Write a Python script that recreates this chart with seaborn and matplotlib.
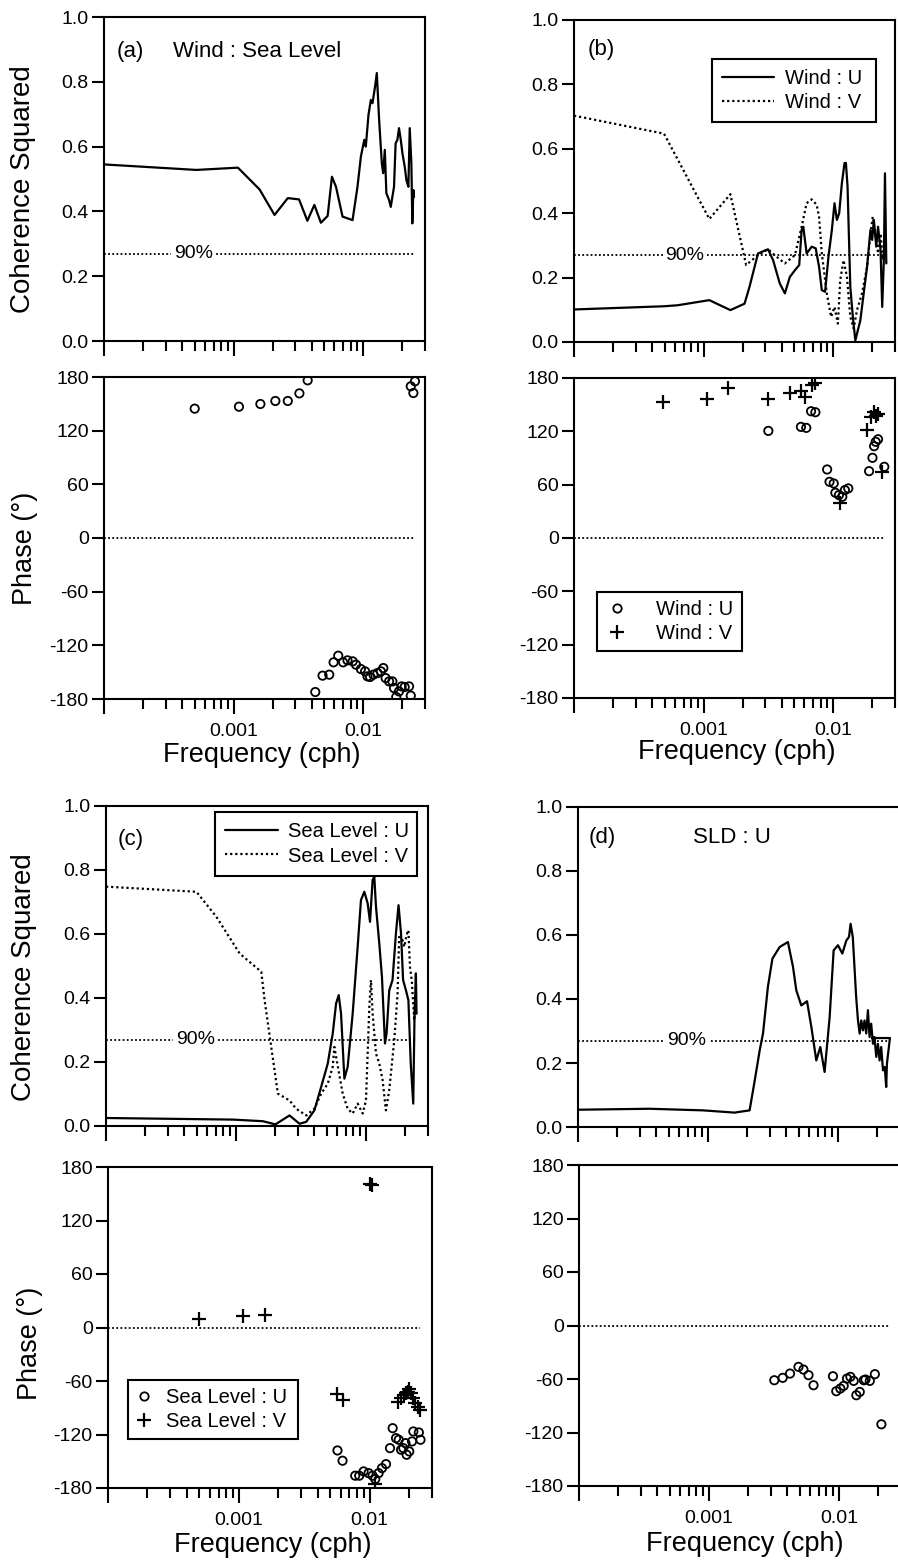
import numpy as np
import pandas as pd
import matplotlib
matplotlib.use("Agg")
import matplotlib.pyplot as plt
from matplotlib.lines import Line2D
from matplotlib.ticker import LogLocator, FuncFormatter, NullFormatter, FixedLocator
import seaborn as sns

# ---------------------------------------------------------------- data (frequency in cph)
# (a) Wind : Sea Level
A_COH_F = [1.0e-4, 5.16e-4, 1.08e-3, 1.585e-3, 2.07e-3, 2.62e-3, 3.20e-3, 3.71e-3, 4.20e-3,
           4.72e-3, 5.32e-3, 5.74e-3, 6.17e-3, 6.93e-3, 8.28e-3, 9.04e-3, 9.6e-3, 1.02e-2,
           1.048e-2, 1.099e-2, 1.146e-2, 1.18e-2, 1.236e-2, 1.274e-2, 1.328e-2, 1.393e-2,
           1.426e-2, 1.469e-2, 1.51e-2, 1.585e-2, 1.633e-2, 1.73e-2, 1.78e-2, 1.837e-2,
           1.89e-2, 1.95e-2, 2.01e-2, 2.093e-2, 2.155e-2, 2.233e-2, 2.287e-2, 2.355e-2,
           2.395e-2, 2.44e-2, 2.466e-2]
A_COH = [0.545, 0.528, 0.535, 0.468, 0.389, 0.441, 0.437, 0.371, 0.42, 0.365, 0.386, 0.507,
         0.476, 0.384, 0.373, 0.476, 0.569, 0.621, 0.6, 0.698, 0.744, 0.734, 0.786, 0.827,
         0.682, 0.548, 0.518, 0.59, 0.456, 0.435, 0.414, 0.476, 0.61, 0.621, 0.657, 0.621,
         0.579, 0.538, 0.497, 0.476, 0.657, 0.548, 0.363, 0.466, 0.445]
A_PH_F = [5.01e-4, 1.1e-3, 1.61e-3, 2.1e-3, 2.62e-3, 3.22e-3, 3.73e-3, 2.33e-2, 2.44e-2, 2.51e-2,
          4.27e-3, 4.86e-3, 5.47e-3, 5.91e-3, 6.42e-3, 7.0e-3, 7.57e-3, 8.3e-3, 8.8e-3, 9.6e-3,
          1.035e-2, 1.08e-2, 1.13e-2, 1.2e-2, 1.29e-2, 1.37e-2, 1.43e-2, 1.49e-2, 1.585e-2,
          1.68e-2, 1.73e-2, 1.8e-2, 1.89e-2, 1.98e-2, 2.09e-2, 2.26e-2, 2.33e-2]
A_PH = [144.6, 146.8, 149.8, 153.2, 153.2, 161.7, 176.3, 169.6, 162.1, 175.2,
        -172.2, -153.9, -152.8, -139.0, -131.6, -139.0, -136.8, -137.9, -141.6, -146.5,
        -149.1, -154.7, -155.4, -152.8, -151.0, -149.1, -145.4, -156.6, -160.3,
        -160.3, -167.8, -177.8, -171.5, -165.9, -166.6, -165.9, -176.3]

# (b) Wind : U and Wind : V
B_U_F = [1.0e-4, 4.95e-4, 6.28e-4, 1.107e-3, 1.61e-3, 2.07e-3, 2.26e-3, 2.63e-3, 3.14e-3,
         3.44e-3, 3.87e-3, 4.24e-3, 4.63e-3, 5.07e-3, 5.47e-3, 5.71e-3, 5.88e-3, 6.24e-3,
         6.83e-3, 7.33e-3, 7.78e-3, 8.17e-3, 8.66e-3, 9.2e-3, 9.77e-3, 1.024e-2, 1.068e-2,
         1.113e-2, 1.167e-2, 1.224e-2, 1.254e-2, 1.291e-2, 1.356e-2, 1.422e-2, 1.483e-2,
         1.527e-2, 1.62e-2, 1.72e-2, 1.827e-2, 1.94e-2, 2.0e-2, 2.06e-2, 2.15e-2, 2.22e-2,
         2.32e-2, 2.39e-2, 2.46e-2, 2.51e-2, 2.57e-2]
B_U = [0.101, 0.111, 0.114, 0.13, 0.099, 0.119, 0.171, 0.275, 0.288, 0.254, 0.182, 0.151,
       0.202, 0.223, 0.239, 0.348, 0.358, 0.275, 0.296, 0.291, 0.234, 0.161, 0.156, 0.265,
       0.348, 0.431, 0.379, 0.4, 0.493, 0.556, 0.556, 0.483, 0.171, 0.073, 0.005, 0.026,
       0.067, 0.151, 0.234, 0.348, 0.317, 0.379, 0.296, 0.358, 0.286, 0.109, 0.254, 0.524,
       0.244]
B_V_F = [1.0e-4, 4.95e-4, 1.107e-3, 1.61e-3, 2.13e-3, 2.63e-3, 3.14e-3, 3.65e-3, 4.24e-3,
         5.07e-3, 5.71e-3, 6.24e-3, 6.83e-3, 7.46e-3, 7.78e-3, 8.17e-3, 8.93e-3, 9.64e-3,
         1.024e-2, 1.087e-2, 1.133e-2, 1.203e-2, 1.277e-2, 1.356e-2, 1.439e-2, 1.527e-2,
         1.67e-2, 1.827e-2, 1.94e-2, 2.02e-2, 2.12e-2, 2.22e-2, 2.32e-2, 2.42e-2, 2.49e-2]
B_V = [0.703, 0.647, 0.382, 0.459, 0.239, 0.27, 0.288, 0.265, 0.244, 0.27, 0.358, 0.431,
       0.443, 0.426, 0.389, 0.275, 0.151, 0.078, 0.109, 0.057, 0.192, 0.254, 0.202, 0.078,
       0.042, 0.099, 0.151, 0.234, 0.337, 0.389, 0.337, 0.275, 0.337, 0.254, 0.275]
B_PU_F = [3.16e-3, 5.64e-3, 6.2e-3, 6.75e-3, 7.29e-3, 8.98e-3, 9.37e-3, 1.01e-2, 1.04e-2,
          1.107e-2, 1.175e-2, 1.232e-2, 1.308e-2, 1.893e-2, 2.01e-2, 2.07e-2, 2.13e-2,
          2.22e-2, 2.48e-2]
B_PU = [120.5, 125.0, 123.9, 142.6, 141.5, 77.1, 63.2, 61.4, 50.9, 48.3, 46.4, 53.9, 55.8,
        75.2, 90.2, 103.3, 108.2, 111.1, 80.1]
B_PV_F = [4.89e-4, 1.068e-3, 1.546e-3, 3.16e-3, 4.66e-3, 5.64e-3, 6.1e-3, 6.87e-3, 7.2e-3,
          1.127e-2, 1.837e-2, 1.974e-2, 2.07e-2, 2.13e-2, 2.2e-2, 2.4e-2]
B_PV = [152.7, 156.8, 168.8, 156.8, 163.2, 165.4, 158.7, 172.5, 174.4, 38.9, 122.0, 136.2,
        141.8, 137.0, 139.2, 74.5]

# (c) Sea Level : U and Sea Level : V
C_U_F = [1.0e-4, 9.48e-4, 1.61e-3, 2.01e-3, 2.58e-3, 3.08e-3, 3.47e-3, 4.01e-3, 4.52e-3,
         5.08e-3, 5.55e-3, 5.89e-3, 6.17e-3, 6.43e-3, 6.82e-3, 7.23e-3, 7.9e-3, 8.63e-3,
         9.15e-3, 9.71e-3, 1.03e-2, 1.074e-2, 1.125e-2, 1.159e-2, 1.194e-2, 1.266e-2,
         1.327e-2, 1.4e-2, 1.44e-2, 1.51e-2, 1.6e-2, 1.70e-2, 1.78e-2, 1.86e-2, 1.93e-2,
         2.03e-2, 2.12e-2, 2.21e-2, 2.31e-2, 2.36e-2, 2.42e-2, 2.45e-2]
C_U = [0.025, 0.02, 0.015, 0.005, 0.033, 0.007, 0.013, 0.049, 0.122, 0.195, 0.289, 0.383,
       0.409, 0.351, 0.148, 0.185, 0.351, 0.56, 0.706, 0.732, 0.696, 0.638, 0.769, 0.779,
       0.685, 0.57, 0.466, 0.258, 0.289, 0.424, 0.456, 0.602, 0.69, 0.602, 0.456, 0.424,
       0.393, 0.195, 0.07, 0.33, 0.477, 0.351]
C_V_F = [1.0e-4, 4.96e-4, 7.06e-4, 1.067e-3, 1.565e-3, 1.66e-3, 1.867e-3, 2.1e-3, 2.58e-3,
         2.9e-3, 3.47e-3, 4.01e-3, 4.52e-3, 5.08e-3, 5.55e-3, 5.71e-3, 6.62e-3, 7.23e-3,
         7.9e-3, 8.63e-3, 9.43e-3, 1.0e-2, 1.061e-2, 1.092e-2, 1.125e-2, 1.194e-2, 1.266e-2,
         1.343e-2, 1.423e-2, 1.51e-2, 1.65e-2, 1.75e-2, 1.8e-2, 1.91e-2, 1.97e-2, 2.05e-2,
         2.12e-2, 2.18e-2, 2.25e-2, 2.35e-2, 2.39e-2]
C_V = [0.748, 0.732, 0.654, 0.539, 0.482, 0.393, 0.247, 0.101, 0.08, 0.054, 0.033, 0.054,
       0.101, 0.132, 0.185, 0.247, 0.101, 0.054, 0.039, 0.07, 0.039, 0.08, 0.372, 0.456,
       0.351, 0.226, 0.195, 0.143, 0.049, 0.112, 0.268, 0.414, 0.591, 0.581, 0.56, 0.596,
       0.612, 0.497, 0.456, 0.33, 0.404]
C_PU_F = [5.68e-3, 6.21e-3, 7.76e-3, 8.33e-3, 9.0e-3, 9.82e-3, 1.054e-2, 1.105e-2, 1.172e-2,
          1.244e-2, 1.335e-2, 1.432e-2, 1.501e-2, 1.592e-2, 1.669e-2, 1.74e-2, 1.81e-2,
          1.88e-2, 1.92e-2, 2.01e-2, 2.11e-2, 2.16e-2, 2.38e-2, 2.45e-2]
C_PU = [-137.9, -149.4, -166.2, -166.2, -161.4, -163.3, -166.2, -170.0, -163.3, -157.7,
        -153.2, -135.3, -112.9, -124.1, -125.9, -137.1, -135.3, -129.7, -142.7, -139.0,
        -127.8, -116.6, -117.7, -125.9]
C_PV_F = [4.93e-4, 1.08e-3, 1.58e-3, 5.62e-3, 6.21e-3, 1.006e-2, 1.042e-2, 1.105e-2, 1.64e-2,
          1.74e-2, 1.82e-2, 1.9e-2, 1.96e-2, 2.01e-2, 2.08e-2, 2.16e-2, 2.24e-2, 2.34e-2,
          2.43e-2]
C_PV = [9.5, 12.9, 14.0, -74.8, -81.2, 161.3, 160.2, -175.6, -83.0, -79.3, -75.6, -73.7,
        -71.8, -69.2, -73.7, -79.3, -84.9, -89.4, -92.4]

# (d) SLD : U
D_F = [1.0e-4, 3.56e-4, 9.15e-4, 1.6e-3, 2.09e-3, 2.29e-3, 2.5e-3, 2.65e-3, 2.89e-3, 3.13e-3,
       3.56e-3, 4.12e-3, 4.51e-3, 4.78e-3, 5.22e-3, 5.78e-3, 6.24e-3, 6.81e-3, 7.31e-3,
       7.89e-3, 8.63e-3, 9.26e-3, 1.0e-2, 1.08e-2, 1.16e-2, 1.216e-2, 1.25e-2, 1.3e-2,
       1.38e-2, 1.425e-2, 1.468e-2, 1.51e-2, 1.556e-2, 1.6e-2, 1.65e-2, 1.7e-2, 1.75e-2,
       1.8e-2, 1.86e-2, 1.91e-2, 1.97e-2, 2.03e-2, 2.09e-2, 2.15e-2, 2.22e-2, 2.29e-2,
       2.35e-2, 2.38e-2, 2.51e-2, 1.83e-2]
D_C = [0.054, 0.057, 0.052, 0.045, 0.052, 0.146, 0.24, 0.292, 0.438, 0.526, 0.5625, 0.578,
       0.5, 0.427, 0.38, 0.393, 0.3125, 0.208, 0.25, 0.172, 0.344, 0.552, 0.568, 0.542,
       0.583, 0.594, 0.635, 0.594, 0.406, 0.333, 0.292, 0.333, 0.302, 0.333, 0.292, 0.365,
       0.281, 0.323, 0.26, 0.281, 0.219, 0.26, 0.208, 0.25, 0.177, 0.1875, 0.125, 0.198,
       0.278, 0.278]
D_PF = [3.18e-3, 3.69e-3, 4.2e-3, 4.88e-3, 5.33e-3, 5.83e-3, 6.37e-3, 8.99e-3, 9.53e-3,
        1.024e-2, 1.087e-2, 1.153e-2, 1.224e-2, 1.298e-2, 1.36e-2, 1.445e-2, 1.552e-2,
        1.598e-2, 1.726e-2, 1.888e-2, 2.12e-2]
D_P = [-61.4, -58.7, -53.9, -46.4, -49.4, -55.7, -67.0, -56.9, -73.7, -70.7, -67.7, -59.5,
       -57.6, -62.1, -78.2, -74.5, -61.4, -60.6, -62.1, -54.6, -110.8]

SIG90 = 0.27           # 90% significance level for coherence squared
REF_F = [1.0e-4, 2.45e-2]

COH_TICKS = [0.0, 0.2, 0.4, 0.6, 0.8, 1.0]
PH_TICKS = [-180, -120, -60, 0, 60, 120, 180]

# ---------------------------------------------------------------- style
sns.set_theme(style="ticks")
plt.rcParams["font.family"] = ["Liberation Sans", "DejaVu Sans"]
plt.rcParams["axes.unicode_minus"] = False
plt.rcParams["axes.linewidth"] = 1.5
plt.rcParams["axes.edgecolor"] = "black"

K = "black"
DOT = (0, (1.0, 1.3))
TICK_FS = 14
LAB_FS = 19.5
TXT_FS = 16
LEG_FS = 14.5

W, H = 898, 1562
fig = plt.figure(figsize=(W / 100, H / 100), dpi=100)


def rect(l, r, t, b):
    return [l / W, 1 - b / H, (r - l) / W, (b - t) / H]


def fmt_freq(v, pos):
    if abs(v - 1e-3) < 1e-9:
        return "0.001"
    if abs(v - 1e-2) < 1e-8:
        return "0.01"
    return ""


def setup(ax, kind):
    ax.set_xscale("log")
    ax.set_xlim(1e-4, 3e-2)
    ax.xaxis.set_major_locator(FixedLocator([1e-4, 1e-3, 1e-2]))
    ax.xaxis.set_minor_locator(LogLocator(base=10, subs=np.arange(2, 10), numticks=30))
    ax.xaxis.set_major_formatter(FuncFormatter(fmt_freq))
    ax.xaxis.set_minor_formatter(NullFormatter())
    if kind == "coh":
        ax.set_ylim(0, 1)
        ax.set_yticks(COH_TICKS)
        ax.set_yticklabels([f"{v:.1f}" for v in COH_TICKS])
        ax.tick_params(axis="x", labelbottom=False)
    else:
        ax.set_ylim(-180, 180)
        ax.set_yticks(PH_TICKS)
        ax.set_yticklabels([str(v) for v in PH_TICKS])
    for s in ax.spines.values():
        s.set_visible(True)
        s.set_linewidth(1.5)
        s.set_color(K)
    ax.tick_params(which="both", direction="out", top=False, right=False, color=K,
                   width=1.5, labelsize=TICK_FS, labelcolor=K)
    ax.tick_params(axis="x", which="major", length=10.5, pad=7)
    ax.tick_params(axis="x", which="minor", length=7)
    ax.tick_params(axis="y", which="major", length=9, pad=2)
    ax.set_facecolor("white")


def line(ax, f, v, ls="-", lw=1.6):
    df = pd.DataFrame({"f": f, "v": v})
    sns.lineplot(data=df, x="f", y="v", ax=ax, color=K, lw=lw, estimator=None,
                 sort=False, legend=False)
    ax.lines[-1].set_linestyle(ls)


def sig_line(ax, f_txt):
    line(ax, REF_F, [SIG90, SIG90], ls=DOT, lw=1.3)
    ax.text(f_txt, SIG90, "90%", ha="center", va="center", fontsize=TICK_FS, color=K,
            bbox=dict(fc="white", ec="none", pad=2.0), zorder=5)


def zero_line(ax):
    line(ax, REF_F, [0, 0], ls=DOT, lw=1.3)


def circles(ax, f, v):
    df = pd.DataFrame({"f": f, "v": v})
    sns.scatterplot(data=df, x="f", y="v", ax=ax, marker="o", s=36, fc="none", ec=K,
                    linewidth=1.3, legend=False, zorder=4)


def pluses(ax, f, v):
    df = pd.DataFrame({"f": f, "v": v})
    sns.scatterplot(data=df, x="f", y="v", ax=ax, marker="+", s=90, color=K,
                    linewidth=1.6, legend=False, zorder=4)


def legend_box(ax, handles, labels, x0, y0, w, h, hl, tp, bp):
    lg = ax.legend(handles, labels, loc="upper left", bbox_to_anchor=(x0, y0, w, h),
                   mode="expand", borderaxespad=0, fontsize=LEG_FS, frameon=True,
                   fancybox=False, shadow=False, handlelength=hl, handletextpad=tp,
                   labelspacing=0.25, borderpad=bp)
    fr = lg.get_frame()
    fr.set_edgecolor(K)
    fr.set_linewidth(1.5)
    fr.set_facecolor("white")
    fr.set_alpha(1)
    for t in lg.get_texts():
        t.set_color(K)
    return lg


line_handles = [Line2D([], [], color=K, lw=1.6, ls="-"),
                Line2D([], [], color=K, lw=1.6, ls=DOT)]
mark_handles = [Line2D([], [], color=K, ls="none", marker="o", ms=6, mfc="none", mec=K, mew=1.3),
                Line2D([], [], color=K, ls="none", marker="+", ms=9.5, mew=1.6)]

# ---------------------------------------------------------------- axes
ax_a1 = fig.add_axes(rect(104, 425, 17, 341))
ax_a2 = fig.add_axes(rect(104, 425, 377, 699))
ax_b1 = fig.add_axes(rect(574, 895, 20, 342))
ax_b2 = fig.add_axes(rect(574, 895, 378, 698))
ax_c1 = fig.add_axes(rect(106, 428, 806, 1126))
ax_c2 = fig.add_axes(rect(108, 432, 1167, 1488))
ax_d1 = fig.add_axes(rect(578, 900, 807, 1127))
ax_d2 = fig.add_axes(rect(579, 901, 1165, 1486))
all_axes = (ax_a1, ax_a2, ax_b1, ax_b2, ax_c1, ax_c2, ax_d1, ax_d2)

for ax in (ax_a1, ax_b1, ax_c1, ax_d1):
    setup(ax, "coh")
for ax in (ax_a2, ax_b2, ax_c2, ax_d2):
    setup(ax, "ph")

# (a)
sig_line(ax_a1, 4.9e-4)
line(ax_a1, A_COH_F, A_COH)
ax_a1.text(0.04, 0.895, "(a)", transform=ax_a1.transAxes, fontsize=TXT_FS, va="center", color=K)
ax_a1.text(0.215, 0.895, "Wind : Sea Level", transform=ax_a1.transAxes, fontsize=TXT_FS, va="center", color=K)
zero_line(ax_a2)
circles(ax_a2, A_PH_F, A_PH)

# (b)
sig_line(ax_b1, 7.2e-4)
line(ax_b1, B_V_F, B_V, ls=DOT, lw=1.6)
line(ax_b1, B_U_F, B_U)
ax_b1.text(0.044, 0.907, "(b)", transform=ax_b1.transAxes, fontsize=TXT_FS, va="center", color=K)
legend_box(ax_b1, line_handles, ["Wind : U", "Wind : V"], 0.43, 0.693, 0.51, 0.186, 2.6, 0.5, 0.5)
zero_line(ax_b2)
circles(ax_b2, B_PU_F, B_PU)
pluses(ax_b2, B_PV_F, B_PV)
legend_box(ax_b2, mark_handles, ["Wind : U", "Wind : V"], 0.072, 0.144, 0.451, 0.187, 1.2, 1.3, 0.4)

# (c)
sig_line(ax_c1, 4.9e-4)
line(ax_c1, C_V_F, C_V, ls=DOT, lw=1.6)
line(ax_c1, C_U_F, C_U)
ax_c1.text(0.037, 0.894, "(c)", transform=ax_c1.transAxes, fontsize=TXT_FS, va="center", color=K)
legend_box(ax_c1, line_handles, ["Sea Level : U", "Sea Level : V"], 0.339, 0.79, 0.627, 0.19, 2.6, 0.5, 0.5)
zero_line(ax_c2)
circles(ax_c2, C_PU_F, C_PU)
pluses(ax_c2, C_PV_F, C_PV)
legend_box(ax_c2, mark_handles, ["Sea Level : U", "Sea Level : V"], 0.062, 0.143, 0.524, 0.193, 0.8, 0.7, 0.4)

# (d)
sig_line(ax_d1, 6.9e-4)
line(ax_d1, D_F, D_C)
ax_d1.text(0.034, 0.906, "(d)", transform=ax_d1.transAxes, fontsize=TXT_FS, va="center", color=K)
ax_d1.text(0.357, 0.906, "SLD : U", transform=ax_d1.transAxes, fontsize=TXT_FS, va="center", color=K)
zero_line(ax_d2)
circles(ax_d2, D_PF, D_P)

# ---------------------------------------------------------------- axis titles
for ax in all_axes:
    ax.set_xlabel("")
    ax.set_ylabel("")

for ax, (x, y) in ((ax_a1, (-0.252, 0.469)), (ax_c1, (-0.255, 0.466))):
    ax.set_ylabel("Coherence Squared", fontsize=LAB_FS + 0.5, color=K, va="center")
    ax.yaxis.set_label_coords(x, y)
for ax, (x, y) in ((ax_a2, (-0.246, 0.469)), (ax_c2, (-0.24, 0.449))):
    ax.set_ylabel("Phase (°)", fontsize=LAB_FS, color=K, va="center")
    ax.yaxis.set_label_coords(x, y)
for ax, (x, y) in ((ax_a2, (0.492, -0.174)), (ax_b2, (0.508, -0.169)),
                   (ax_c2, (0.509, -0.178)), (ax_d2, (0.516, -0.18))):
    ax.set_xlabel("Frequency (cph)", fontsize=LAB_FS, color=K, va="center")
    ax.xaxis.set_label_coords(x, y)

fig.savefig("out.png", dpi=100, facecolor="white")
